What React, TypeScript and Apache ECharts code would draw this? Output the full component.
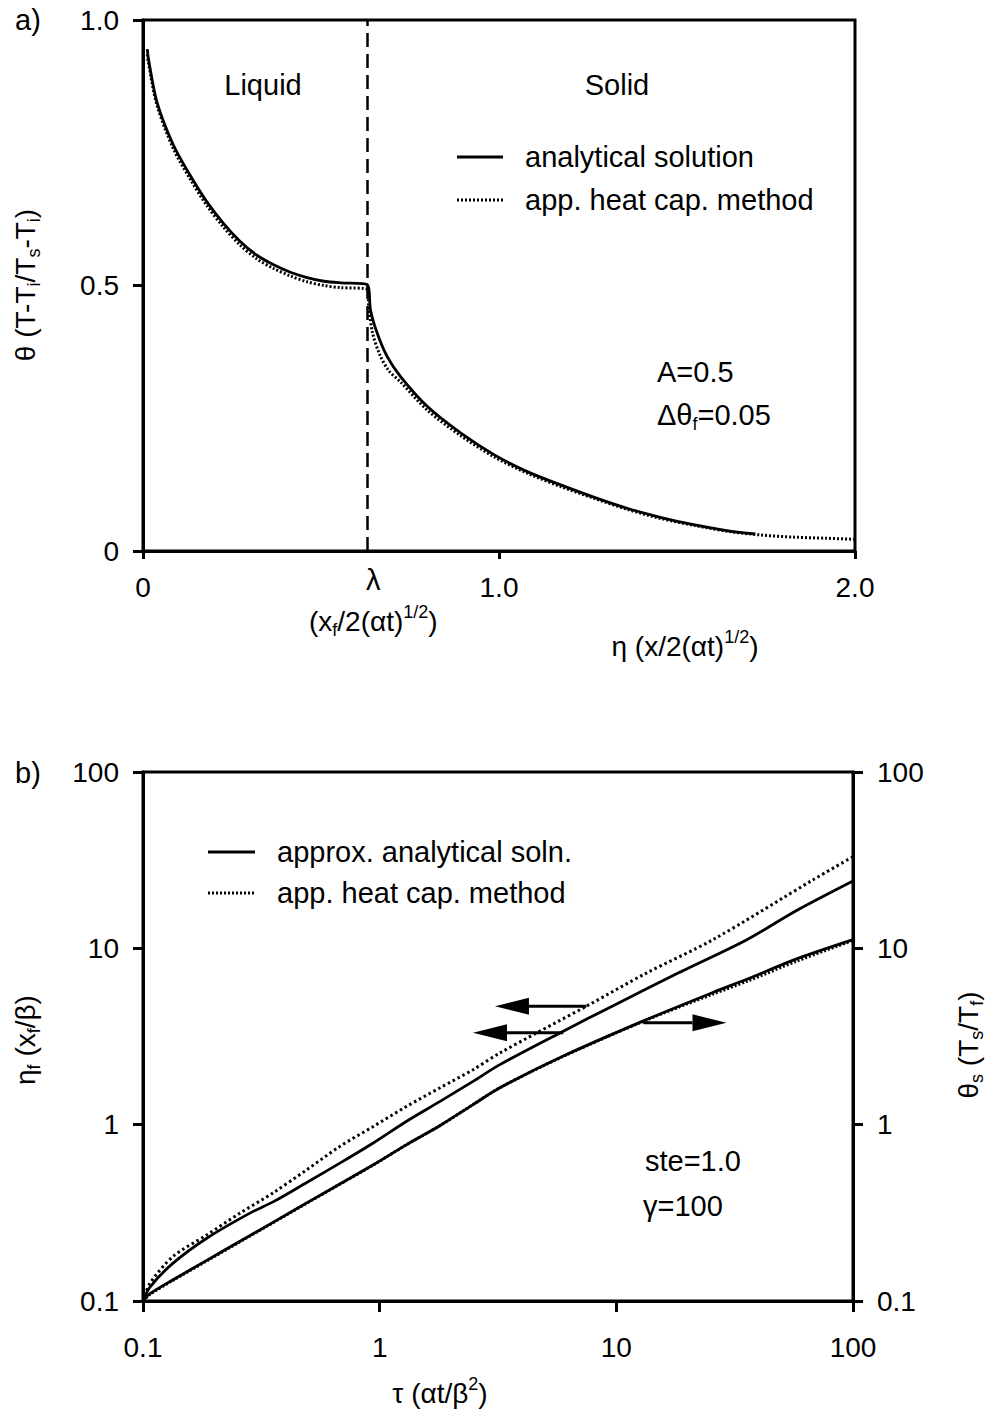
import React, { useEffect, useRef } from "react";
import * as echarts from "echarts";

const FONT = '"Liberation Sans", Arial, Helvetica, sans-serif';

// ---------- Panel a: temperature profile ----------
const aLambda = 0.63;
const aAnalyticEta = [
  0.012, 0.015, 0.039, 0.085, 0.132, 0.179, 0.226, 0.273, 0.32, 0.367, 0.414, 0.461, 0.508, 0.555, 0.63,
  0.639, 0.658, 0.686, 0.724, 0.799, 0.893, 0.987, 1.081, 1.175, 1.268, 1.362, 1.456, 1.55, 1.644, 1.72,
];
const aAnalyticTheta = [
  0.945, 0.928, 0.846, 0.765, 0.708, 0.658, 0.617, 0.583, 0.557, 0.539, 0.525, 0.515, 0.508, 0.505, 0.502,
  0.454, 0.41, 0.366, 0.328, 0.272, 0.222, 0.181, 0.149, 0.124, 0.101, 0.08, 0.063, 0.049, 0.038, 0.032,
];
const aNumEta = [
  0.012, 0.015, 0.039, 0.085, 0.132, 0.179, 0.226, 0.273, 0.32, 0.367, 0.414, 0.461, 0.508, 0.555, 0.63,
  0.634, 0.645, 0.665, 0.69, 0.724, 0.799, 0.893, 0.987, 1.081, 1.175, 1.268, 1.362, 1.456, 1.55, 1.644,
  1.738, 1.832, 1.92, 2.0,
];
const aNumTheta = [
  0.935, 0.92, 0.84, 0.758, 0.701, 0.651, 0.61, 0.576, 0.55, 0.532, 0.518, 0.507, 0.5, 0.496, 0.493,
  0.46, 0.41, 0.37, 0.34, 0.318, 0.265, 0.217, 0.177, 0.146, 0.121, 0.099, 0.078, 0.061, 0.048, 0.037,
  0.03, 0.026, 0.024, 0.022,
];
const aXTicks = ["0", "1.0", "2.0"];
const aYTicks = ["0", "0.5", "1.0"];

// ---------- Panel b: front position & surface temperature ----------
const bEtaNumTau = [0.1, 0.107, 0.134, 0.186, 0.257, 0.356, 0.492, 0.679, 0.94, 1.3, 1.8, 2.48, 3.22, 7.48, 13.4, 25.6, 67.9, 100];
const bEtaNumVal = [0.1, 0.126, 0.179, 0.237, 0.315, 0.412, 0.555, 0.753, 0.977, 1.27, 1.62, 2.05, 2.55, 4.7, 7.24, 11.2, 24.5, 33.1];
const bEtaAnTau = [0.1, 0.107, 0.134, 0.186, 0.283, 0.356, 0.492, 0.679, 0.94, 1.3, 1.8, 2.48, 3.22, 5.97, 9.7, 18.6, 35.6, 57.8, 100];
const bEtaAnVal = [0.1, 0.12, 0.164, 0.227, 0.315, 0.366, 0.47, 0.605, 0.787, 1.045, 1.355, 1.76, 2.19, 3.39, 4.73, 7.33, 11.2, 16.4, 24.1];
const bThetaTau = [0.1, 0.107, 0.134, 0.186, 0.257, 0.356, 0.492, 0.679, 0.94, 1.3, 1.8, 2.48, 3.22, 5.97, 13.4, 25.6, 35.6, 57.8, 100];
const bThetaAnVal = [0.1, 0.11, 0.132, 0.17, 0.218, 0.28, 0.36, 0.461, 0.592, 0.771, 0.989, 1.3, 1.62, 2.45, 3.94, 5.62, 6.68, 8.71, 11.2];
const bThetaNumVal = [0.1, 0.109, 0.131, 0.169, 0.217, 0.279, 0.359, 0.46, 0.591, 0.77, 0.987, 1.3, 1.62, 2.44, 3.92, 5.5, 6.5, 8.45, 11.1];
const bArrowTail = [7.48, 5.97, 13.0];
const bArrowTip = [3.07, 2.48, 29.2];
const bArrowLevel = [4.7, 3.32, 3.78];

const zip = (xs: number[], ys: number[]) => xs.map((x, i) => [x, ys[i]]);

const rich = {
  n: { fontSize: 28, fontFamily: FONT, lineHeight: 36, fill: "#000" },
  t: { fontSize: 29, fontFamily: FONT, lineHeight: 36, fill: "#000" },
  sub: { fontSize: 18, fontFamily: FONT, lineHeight: 18, verticalAlign: "bottom", fill: "#000" },
  sup: { fontSize: 18, fontFamily: FONT, lineHeight: 18, verticalAlign: "top", fill: "#000" },
};

const axisLineStyle = { color: "#000", width: 3 };

function text(x: number, y: number, str: string, align = "left", rotation = 0) {
  return {
    type: "text",
    x,
    y,
    rotation,
    silent: true,
    style: { text: str, rich, align, verticalAlign: "middle", fill: "#000", fontFamily: FONT, fontSize: 29 },
  };
}
function seg(x1: number, y1: number, x2: number, y2: number, dash: number[] | null) {
  return {
    type: "line",
    silent: true,
    shape: { x1, y1, x2, y2 },
    style: { stroke: "#000", lineWidth: dash ? 3 : 2.8, lineDash: dash || undefined },
  };
}

export default function App() {
  const ref = useRef<HTMLDivElement>(null);
  useEffect(() => {
    document.body.style.margin = "0";
    const chart = echarts.init(ref.current!, null, { renderer: "svg" });
    const tickLabel = { fontSize: 28, fontFamily: FONT, color: "#000" };
    const logFmt = (v: number) => (v < 0.5 ? "0.1" : String(Math.round(v)));
    const option: any = {
      animation: false,
      grid: [
        { left: 143, top: 20, width: 712, height: 531, show: true, borderColor: "#000", borderWidth: 3, backgroundColor: "transparent" },
        { left: 143, top: 772, width: 710, height: 529, show: true, borderColor: "#000", borderWidth: 3, backgroundColor: "transparent" },
      ],
      xAxis: [
        {
          gridIndex: 0, type: "value", min: 0, max: 2, interval: 1,
          axisLine: { lineStyle: axisLineStyle },
          axisTick: { length: 8, lineStyle: axisLineStyle },
          axisLabel: { ...tickLabel, margin: 22, formatter: (v: number) => aXTicks[Math.round(v)] },
          splitLine: { show: false },
        },
        {
          gridIndex: 1, type: "log", logBase: 10, min: 0.1, max: 100,
          axisLine: { lineStyle: axisLineStyle },
          axisTick: { length: 11, lineStyle: axisLineStyle },
          minorTick: { show: false },
          axisLabel: { ...tickLabel, margin: 32, formatter: logFmt },
          splitLine: { show: false },
        },
      ],
      yAxis: [
        {
          gridIndex: 0, type: "value", min: 0, max: 1, interval: 0.5,
          axisLine: { lineStyle: axisLineStyle },
          axisTick: { length: 10, lineStyle: axisLineStyle },
          axisLabel: { ...tickLabel, margin: 24, formatter: (v: number) => aYTicks[Math.round(v * 2)] },
          splitLine: { show: false },
        },
        {
          gridIndex: 1, type: "log", logBase: 10, min: 0.1, max: 100, position: "left",
          axisLine: { lineStyle: axisLineStyle },
          axisTick: { length: 10, lineStyle: axisLineStyle },
          axisLabel: { ...tickLabel, margin: 24, formatter: logFmt },
          splitLine: { show: false },
        },
        {
          gridIndex: 1, type: "log", logBase: 10, min: 0.1, max: 100, position: "right",
          axisLine: { lineStyle: axisLineStyle },
          axisTick: { length: 10, lineStyle: axisLineStyle },
          axisLabel: { ...tickLabel, margin: 24, formatter: logFmt },
          splitLine: { show: false },
        },
      ],
      series: [
        {
          name: "analytical solution", type: "line", xAxisIndex: 0, yAxisIndex: 0,
          data: zip(aAnalyticEta, aAnalyticTheta), symbol: "none", silent: true, smooth: 0.3,
          lineStyle: { color: "#000", width: 2.8 },
          markLine: {
            silent: true, symbol: "none", label: { show: false },
            lineStyle: { color: "#000", width: 2.5, type: [14, 7] },
            data: [[{ coord: [aLambda, 0] }, { coord: [aLambda, 1] }]],
          },
        },
        {
          name: "app. heat cap. method", type: "line", xAxisIndex: 0, yAxisIndex: 0,
          data: zip(aNumEta, aNumTheta), symbol: "none", silent: true, smooth: 0.3,
          lineStyle: { color: "#000", width: 3, type: [2, 2] },
        },
        {
          name: "app. heat cap. method", type: "line", xAxisIndex: 1, yAxisIndex: 1,
          data: zip(bEtaNumTau, bEtaNumVal), symbol: "none", silent: true, smooth: 0.3,
          lineStyle: { color: "#000", width: 3, type: [2.5, 3] },
        },
        {
          name: "approx. analytical soln.", type: "line", xAxisIndex: 1, yAxisIndex: 1,
          data: zip(bEtaAnTau, bEtaAnVal), symbol: "none", silent: true, smooth: 0.3,
          lineStyle: { color: "#000", width: 2.8 },
        },
        {
          name: "approx. analytical soln.", type: "line", xAxisIndex: 1, yAxisIndex: 2,
          data: zip(bThetaTau, bThetaAnVal), symbol: "none", silent: true, smooth: 0.3,
          lineStyle: { color: "#000", width: 2.8 },
        },
        {
          name: "app. heat cap. method", type: "line", xAxisIndex: 1, yAxisIndex: 2,
          data: zip(bThetaTau, bThetaNumVal), symbol: "none", silent: true, smooth: 0.3,
          lineStyle: { color: "#000", width: 3, type: [2, 2] },
        },
        {
          name: "arrows", type: "custom", xAxisIndex: 1, yAxisIndex: 1, silent: true, clip: false,
          encode: { x: [0, 1], y: 2 },
          data: bArrowTail.map((t, i) => [t, bArrowTip[i], bArrowLevel[i]]),
          renderItem: (_p: any, api: any) => {
            const tail = api.coord([api.value(0), api.value(2)]);
            const tip = api.coord([api.value(1), api.value(2)]);
            const dir = tip[0] > tail[0] ? 1 : -1;
            const L = 34, H = 8.5;
            const bx = tip[0] - dir * L;
            return {
              type: "group",
              children: [
                { type: "line", shape: { x1: tail[0], y1: tail[1], x2: bx, y2: tip[1] }, style: { stroke: "#000", lineWidth: 3 } },
                { type: "polygon", shape: { points: [[tip[0], tip[1]], [bx, tip[1] - H], [bx, tip[1] + H]] }, style: { fill: "#000" } },
              ],
            };
          },
        },
      ],
    };
    chart.setOption(option);

    const lam = chart.convertToPixel({ xAxisIndex: 0, yAxisIndex: 0 } as any, [aLambda, 0]) as number[];

    const graphic = [
      text(15, 20, "{t|a)}"),
      text(15, 773, "{t|b)}"),
      // panel a
      text(263, 85, "{t|Liquid}", "center"),
      text(617, 85, "{t|Solid}", "center"),
      seg(457, 157, 503, 157, null),
      seg(457, 200, 503, 200, [2, 2]),
      text(525, 157, "{t|analytical solution}"),
      text(525, 200, "{t|app. heat cap. method}"),
      text(657, 372, "{t|A=0.5}"),
      text(657, 415, "{t|Δθ}{sub|f}{t|=0.05}"),
      text(lam[0] + 6, 580, "{t|λ}", "center"),
      text(lam[0] + 6, 621, "{n|(x}{sub|f}{n|/2(αt)}{sup|1/2}{n|)}", "center"),
      text(685, 646, "{n|η (x/2(αt)}{sup|1/2}{n|)}", "center"),
      text(25, 285, "{n|θ (T-T}{sub|i}{n|/T}{sub|s}{n|-T}{sub|i}{n|)}", "center", Math.PI / 2),
      // panel b
      seg(208, 852, 255, 852, null),
      seg(208, 893, 255, 893, [2, 2]),
      text(277, 852, "{t|approx. analytical soln.}"),
      text(277, 893, "{t|app. heat cap. method}"),
      text(645, 1161, "{t|ste=1.0}"),
      text(643, 1206, "{t|γ=100}"),
      text(440, 1393, "{n|τ (αt/β}{sup|2}{n|)}", "center"),
      text(25, 1040, "{n|η}{sub|f}{n| (x}{sub|f}{n|/β)}", "center", Math.PI / 2),
      text(968, 1045, "{n|θ}{sub|s}{n| (T}{sub|s}{n|/T}{sub|f}{n|)}", "center", Math.PI / 2),
    ];
    chart.setOption({ graphic });
    return () => chart.dispose();
  }, []);
  return <div ref={ref} style={{ width: 994, height: 1416 }} />;
}
